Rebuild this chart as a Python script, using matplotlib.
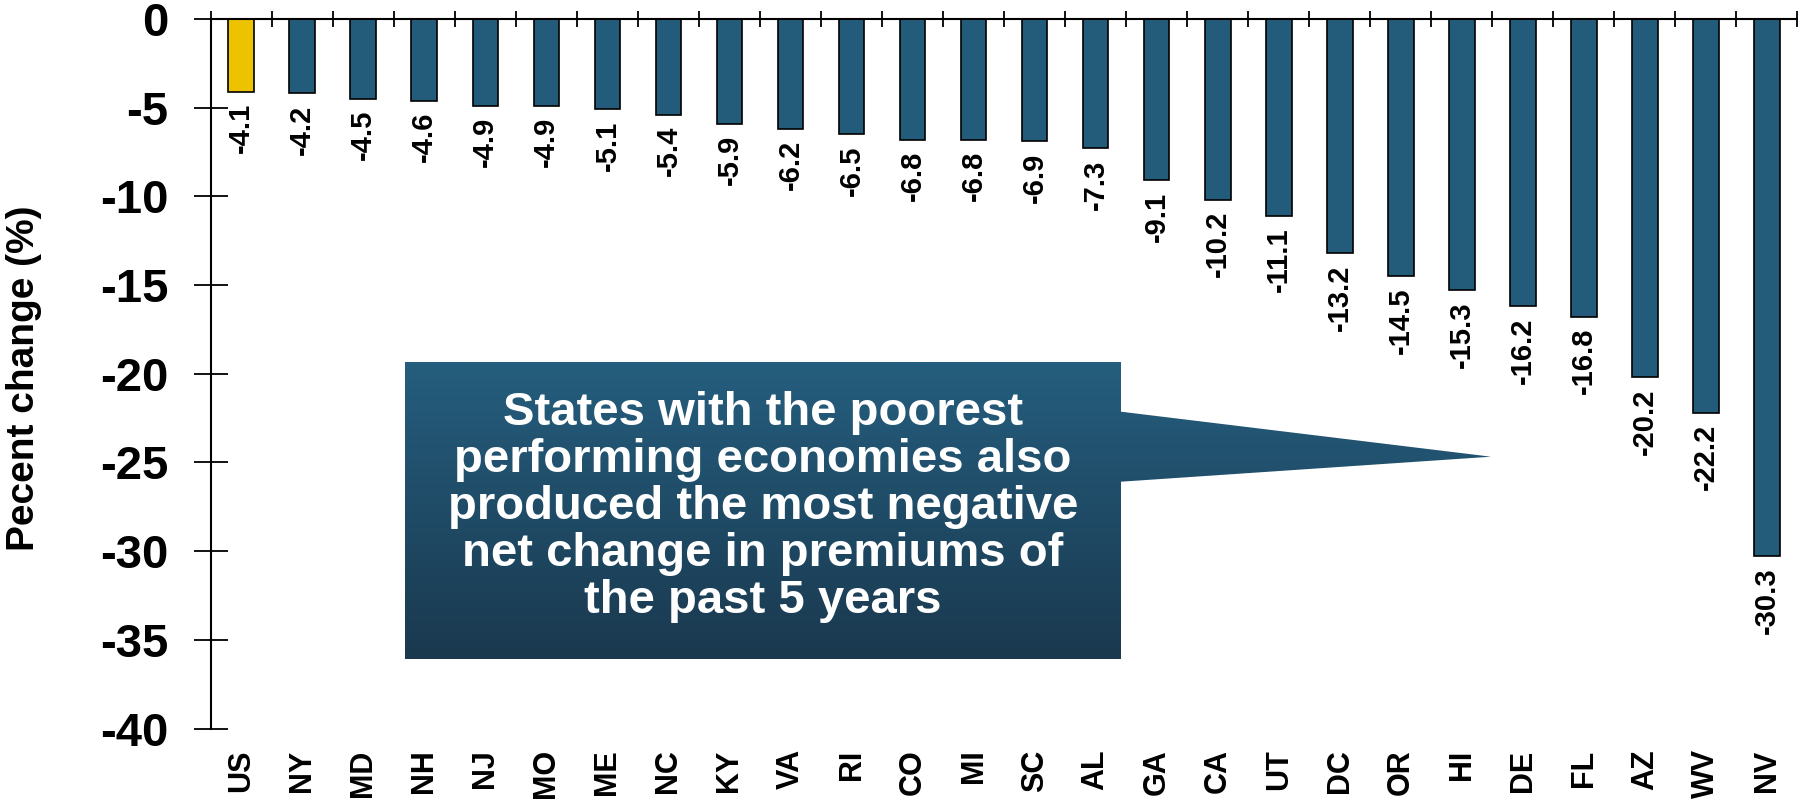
import matplotlib
matplotlib.use("Agg")
import matplotlib.pyplot as plt
import numpy as np
from matplotlib.patches import Polygon
from matplotlib.ticker import FixedLocator

plt.rcParams['font.family'] = ['Liberation Sans', 'DejaVu Sans']
plt.rcParams['font.weight'] = 'bold'

states = ["US", "NY", "MD", "NH", "NJ", "MO", "ME", "NC", "KY", "VA", "RI", "CO", "MI",
          "SC", "AL", "GA", "CA", "UT", "DC", "OR", "HI", "DE", "FL", "AZ", "WV", "NV"]
values = [-4.1, -4.2, -4.5, -4.6, -4.9, -4.9, -5.1, -5.4, -5.9, -6.2, -6.5, -6.8, -6.8,
          -6.9, -7.3, -9.1, -10.2, -11.1, -13.2, -14.5, -15.3, -16.2, -16.8, -20.2, -22.2, -30.3]
y_ticks = [0, -5, -10, -15, -20, -25, -30, -35, -40]
callout_text = ("States with the poorest\nperforming economies also\nproduced the most negative\n"
                "net change in premiums of\nthe past 5 years")

W, H = 1798, 799
fig = plt.figure(figsize=(W / 100, H / 100), dpi=100)
ax = fig.add_axes([210.7 / W, 1 - 728.5 / H, (1797.5 - 210.7) / W, (728.5 - 19) / H])

x = np.arange(len(states))
colors = ["#EDC200" if s == "US" else "#235B7A" for s in states]
ax.bar(x, values, width=0.42, color=colors, edgecolor="black", linewidth=1.2, zorder=2)

for xi, v in zip(x, values):
    ax.annotate(f"{v:.1f}", xy=(xi, v), xytext=(0, -8), textcoords="offset points",
                rotation=90, ha="center", va="top", fontsize=21, fontweight="bold")

ax.set_xlim(-0.5, len(states) - 0.5)
ax.set_ylim(-40, 0)
ax.set_yticks(y_ticks)
ax.set_yticklabels([str(t) for t in y_ticks], fontsize=34, fontweight="bold")
ax.tick_params(axis="y", direction="inout", length=24, width=1.3, pad=18.5)

ax.set_xticks(x)
ax.set_xticklabels(states, rotation=90, fontsize=22, fontweight="bold")
ax.xaxis.set_minor_locator(FixedLocator(np.arange(len(states) + 1) - 0.5))
ax.tick_params(axis="x", which="major", length=0, pad=15, bottom=True, top=False)
ax.tick_params(axis="x", which="minor", direction="inout", length=12, width=1.3,
               top=True, bottom=False)

for s in ["bottom", "right"]:
    ax.spines[s].set_visible(False)
for s in ["top", "left"]:
    ax.spines[s].set_linewidth(1.5)

fig.text(24 / W, 1 - 378 / H, "Pecent change (%)", rotation=90, ha="center", va="center",
         fontsize=28, fontweight="bold")

# callout box with gradient
ov = fig.add_axes([0, 0, 1, 1])
ov.set_xlim(0, W)
ov.set_ylim(H, 0)
ov.axis("off")
ov.patch.set_alpha(0)
top_c = np.array([37, 94, 126]) / 255
bot_c = np.array([26, 57, 79]) / 255
t = np.linspace(0, 1, 256)[:, None]
grad = top_c[None, None, :] * (1 - t[:, :, None]) + bot_c[None, None, :] * t[:, :, None]
grad = np.repeat(grad, 2, axis=1)
bx0, bx1, by0, by1 = 405, 1121, 362, 659
im = ov.imshow(grad, extent=(bx0, 1495, by1, by0), aspect="auto", interpolation="bilinear", zorder=1)
poly = Polygon([(bx0, by0), (bx1, by0), (bx1, 411.7), (1491, 456.7), (bx1, 481.7),
                (bx1, by1), (bx0, by1)], closed=True, transform=ov.transData,
               facecolor="none", edgecolor="none")
ov.add_patch(poly)
im.set_clip_path(poly)
ov.set_xlim(0, W)
ov.set_ylim(H, 0)
ov.text((bx0 + bx1) / 2, 507, callout_text, ha="center", va="center", color="white",
        fontsize=34, fontweight="bold", linespacing=1.09, zorder=3)

fig.savefig("out.png", dpi=100)
